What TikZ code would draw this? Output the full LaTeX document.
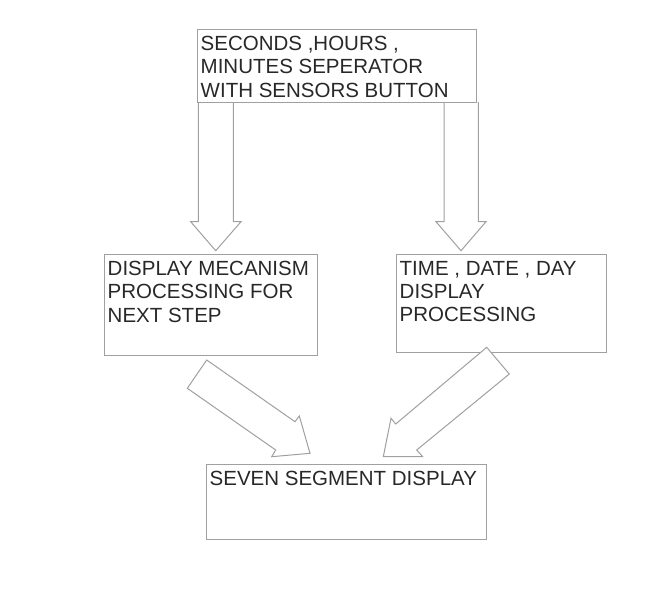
\documentclass[tikz,border=0pt]{standalone}
\usepackage{fontspec}
\setmainfont{Liberation Sans}
\definecolor{lineg}{RGB}{160,160,160}
\definecolor{txt}{RGB}{40,40,40}
\tikzset{
  boxnode/.style={draw=lineg, line width=1pt, rectangle, inner sep=0pt, anchor=north west},
  label/.style={anchor=north west, inner sep=0pt, align=left, text=txt, font=\fontsize{20.5}{23.3}\selectfont},
  blockarrow/.style={draw=lineg, line width=1pt, fill=white, line join=miter}
}
\begin{document}
\begin{tikzpicture}[x=1pt,y=-1pt]
\useasboundingbox (0,0) rectangle (658,600);
% block arrows from top box
\draw[blockarrow] (198.3,102) -- (198.3,221.7) -- (190.7,221.7) -- (215.7,250.7) -- (241,221.7) -- (233.3,221.7) -- (233.3,102);
\draw[blockarrow] (444,102) -- (444,221.7) -- (436,221.7) -- (461,250.7) -- (486,221.7) -- (478.3,221.7) -- (478.3,102);
% boxes
\node[boxnode, minimum width=279pt, minimum height=73pt] (top) at (197,29) {};
\node[boxnode, minimum width=213pt, minimum height=101pt] (ml) at (104,254) {};
\node[boxnode, minimum width=210pt, minimum height=98pt] (mr) at (396,254) {};
\node[boxnode, minimum width=280pt, minimum height=75pt] (bot) at (206,464) {};
% texts
\node[label] (ttop) at (200.5,36) {SECONDS ,HOURS ,\\MINUTES SEPERATOR\\WITH SENSORS BUTTON};
\node[label] (tml) at (107.5,261) {DISPLAY MECANISM\\PROCESSING FOR\\NEXT STEP};
\node[label] (tmr) at (399.5,261) {TIME , DATE , DAY\\DISPLAY\\PROCESSING};
\node[label] (tbot) at (209.5,471) {SEVEN SEGMENT DISPLAY};
% block arrows to bottom box
\draw[blockarrow] (206.7,360) -- (295,421.7) -- (299.3,416) -- (310,453.3) -- (271.7,456.7) -- (275.7,450) -- (187.3,388.3) -- cycle;
\draw[blockarrow] (486.7,347.3) -- (395.7,424) -- (391,418.3) -- (383.3,456.7) -- (422.7,456.7) -- (416.7,450) -- (509.3,374) -- cycle;
\end{tikzpicture}
\end{document}
